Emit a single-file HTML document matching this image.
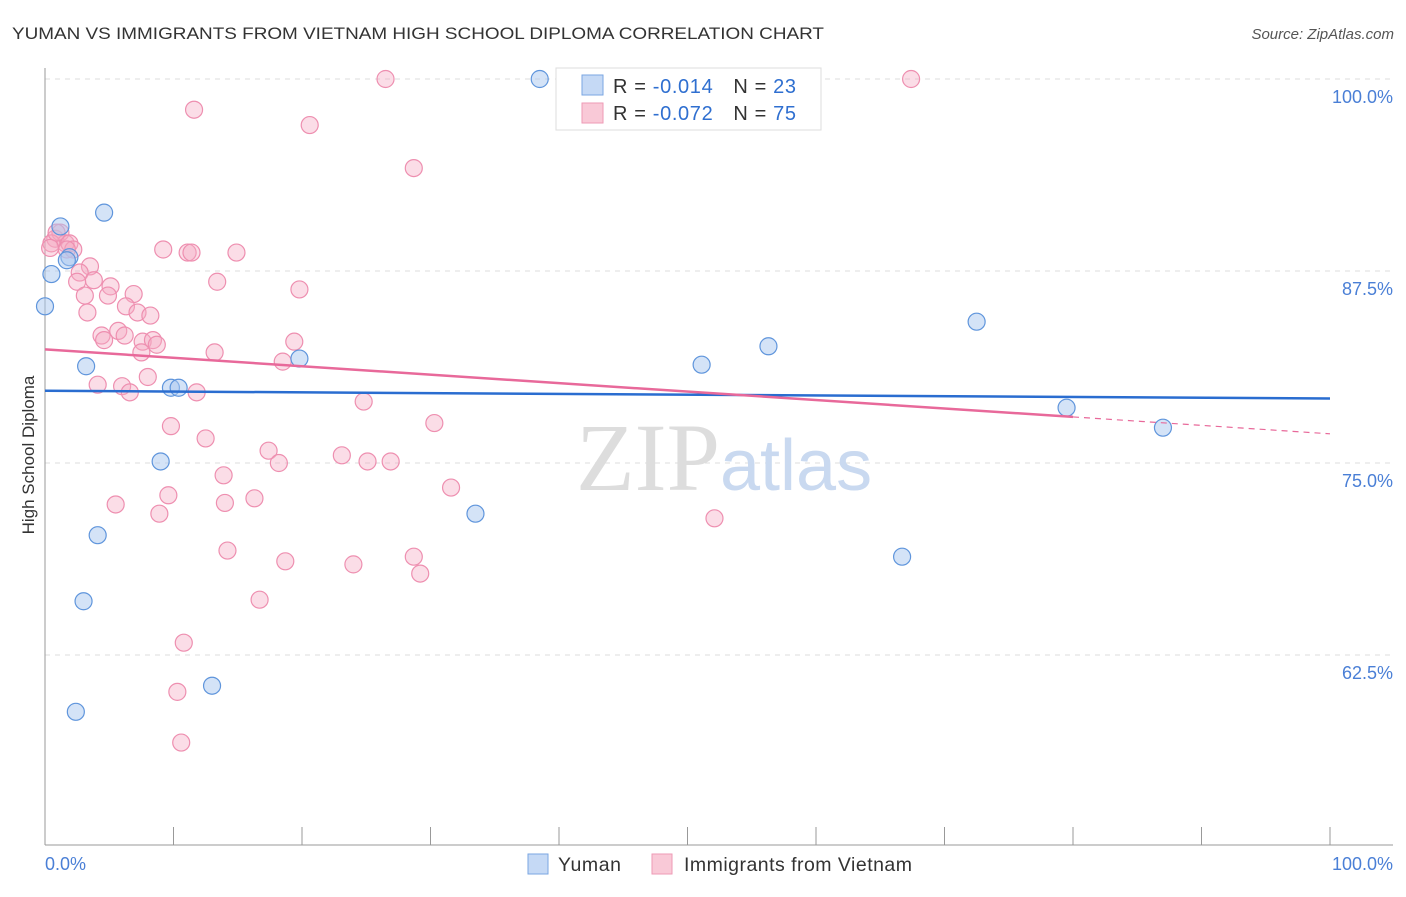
<!DOCTYPE html>
<html><head><meta charset="utf-8"><style>
body{margin:0;background:#fff;font-family:"Liberation Sans",sans-serif}
</style></head><body>
<svg id="c" width="1406" height="892" xmlns="http://www.w3.org/2000/svg">
<text x="12" y="39" font-size="17" fill="#333" textLength="812" lengthAdjust="spacingAndGlyphs">YUMAN VS IMMIGRANTS FROM VIETNAM HIGH SCHOOL DIPLOMA CORRELATION CHART</text>
<text x="1394" y="39" font-size="15" fill="#555" text-anchor="end" font-style="italic">Source: ZipAtlas.com</text>
<text x="34" y="455" font-size="17" fill="#333" text-anchor="middle" transform="rotate(-90 34 455)">High School Diploma</text>
<g id="grid"></g>
<text x="720" y="490" font-size="96" fill="#ddd" text-anchor="end" font-family="Liberation Serif">ZIP</text>
<text x="720" y="490" font-size="72" fill="#c9d9f0">atlas</text>
<g id="pts"></g>
<g id="lines"></g>
<g>
<rect x="556" y="68" width="265" height="62" fill="#fff" stroke="#ddd"/>
<rect x="582" y="75" width="21" height="20" fill="#c5d9f5" stroke="#7aa6e2"/>
<rect x="582" y="103" width="21" height="20" fill="#f9c9d7" stroke="#ee9ab5"/>
<text x="613" y="93" font-size="20" fill="#333" textLength="183" lengthAdjust="spacing">R = <tspan fill="#2f6fd0">-0.014</tspan><tspan dx="20">N = </tspan><tspan fill="#2f6fd0">23</tspan></text>
<text x="613" y="120" font-size="20" fill="#333" textLength="183" lengthAdjust="spacing">R = <tspan fill="#2f6fd0">-0.072</tspan><tspan dx="20">N = </tspan><tspan fill="#2f6fd0">75</tspan></text>
</g>
<g>
<rect x="528" y="854" width="20" height="20" fill="#c5d9f5" stroke="#7aa6e2"/>
<text x="558" y="871" font-size="19.5" fill="#333" textLength="63">Yuman</text>
<rect x="652" y="854" width="20" height="20" fill="#f9c9d7" stroke="#ee9ab5"/>
<text x="684" y="871" font-size="19.5" fill="#333" textLength="228">Immigrants from Vietnam</text>
</g>
</svg>
<script>
const yTicks=[100,87.5,75,62.5];
const yTickLabels=["100.0%","87.5%","75.0%","62.5%"];
const xTickLabels=["0.0%","100.0%"];
const blueX=[38.5,1.2,4.6,1.9,0.5,0,3.2,9.8,10.4,19.8,9.0,4.1,3.0,13.0,2.4,33.5,51.1,56.3,72.5,79.5,87.0,66.7,1.7];
const blueY=[100,90.4,91.3,88.4,87.3,85.2,81.3,79.9,79.9,81.8,75.1,70.3,66.0,60.5,58.8,71.7,81.4,82.6,84.2,78.6,77.3,68.9,88.2];
const pinkX=[26.5,67.4,11.6,20.6,28.7,0.8,1.2,1.6,1.9,2.2,0.5,0.9,1.7,3.5,2.7,3.8,2.5,5.1,3.1,4.9,6.9,3.3,6.3,7.2,8.2,9.2,11.1,11.4,14.9,13.4,19.8,4.4,4.6,5.7,6.2,7.6,8.4,8.7,7.5,13.2,19.4,18.5,4.1,6.0,6.6,8.0,11.8,24.8,30.3,9.8,12.5,17.4,18.2,23.1,25.1,26.9,13.9,31.6,5.5,9.6,8.9,14.0,16.3,52.1,14.2,18.7,24.0,28.7,29.2,16.7,10.8,10.3,10.6,43.0,0.4];
const pinkY=[100,100,98.0,97.0,94.2,89.6,90.0,89.3,89.3,88.9,89.3,90.0,88.9,87.8,87.4,86.9,86.8,86.5,85.9,85.9,86.0,84.8,85.2,84.8,84.6,88.9,88.7,88.7,88.7,86.8,86.3,83.3,83.0,83.6,83.3,82.9,83.0,82.7,82.2,82.2,82.9,81.6,80.1,80.0,79.6,80.6,79.6,79.0,77.6,77.4,76.6,75.8,75.0,75.5,75.1,75.1,74.2,73.4,72.3,72.9,71.7,72.4,72.7,71.4,69.3,68.6,68.4,68.9,67.8,66.1,63.3,60.1,56.8,99.9,89.0];
const blueTrend=[79.7,79.2];
const pinkTrend=[82.4,76.9];
const pinkSolidEnd=80;
const NS="http://www.w3.org/2000/svg";
const xs=v=>45+v*12.85;
const ys=v=>79+(100-v)*15.36;
function mk(t,a,p){const e=document.createElementNS(NS,t);for(const k in a)e.setAttribute(k,a[k]);p.appendChild(e);return e;}
const g=document.getElementById('grid');
yTicks.forEach((t,i)=>{
 const l=mk('line',{x1:45,x2:1393,y1:ys(t),y2:ys(t),stroke:'#ddd','stroke-dasharray':'5,5'},g);
 
 
 const tx=mk('text',{x:1393,y:ys(t)+24,'font-size':18,fill:'#4a7fd6','text-anchor':'end'},g);
 tx.textContent=yTickLabels[i];
 
 
});
const ax=mk('line',{x1:45,x2:45,y1:68,y2:845,stroke:'#999'},g);


const bx=mk('line',{x1:45,x2:1393,y1:845,y2:845,stroke:'#999'},g);


for(let i=0;i<=10;i++){const t=mk('line',{x1:xs(i*10),x2:xs(i*10),y1:827,y2:845,stroke:'#999'},g);
 
 }
[[0,'start'],[100,'end']].forEach(([v,a],i)=>{const t=mk('text',{x:i?1393:45,y:870,'font-size':18,fill:'#4a7fd6','text-anchor':a},g);t.textContent=xTickLabels[i];
 
 });
const P=document.getElementById('pts');
pinkX.forEach((x,i)=>{const c=mk('circle',{cx:xs(x),cy:ys(pinkY[i]),r:8.5,fill:'rgba(246,170,195,0.4)',stroke:'#ee8fb0','stroke-width':1.2},P);
 
 });
blueX.forEach((x,i)=>{const c=mk('circle',{cx:xs(x),cy:ys(blueY[i]),r:8.5,fill:'rgba(170,200,240,0.5)',stroke:'#5f95dc','stroke-width':1.2},P);
 
 });
const L=document.getElementById('lines');
const b=mk('line',{x1:xs(0),x2:xs(100),y1:ys(blueTrend[0]),y2:ys(blueTrend[1]),stroke:'#2a6dd0','stroke-width':2.5},L);


const pe=pinkTrend[0]+(pinkTrend[1]-pinkTrend[0])*pinkSolidEnd/100;
const p=mk('line',{x1:xs(0),x2:xs(pinkSolidEnd),y1:ys(pinkTrend[0]),y2:ys(pe),stroke:'#e8699a','stroke-width':2.5},L);


const pd=mk('line',{x1:xs(pinkSolidEnd),x2:xs(100),y1:ys(pe),y2:ys(pinkTrend[1]),stroke:'#e8699a','stroke-width':1.2,'stroke-dasharray':'6,5'},L);


</script>
</body></html>
